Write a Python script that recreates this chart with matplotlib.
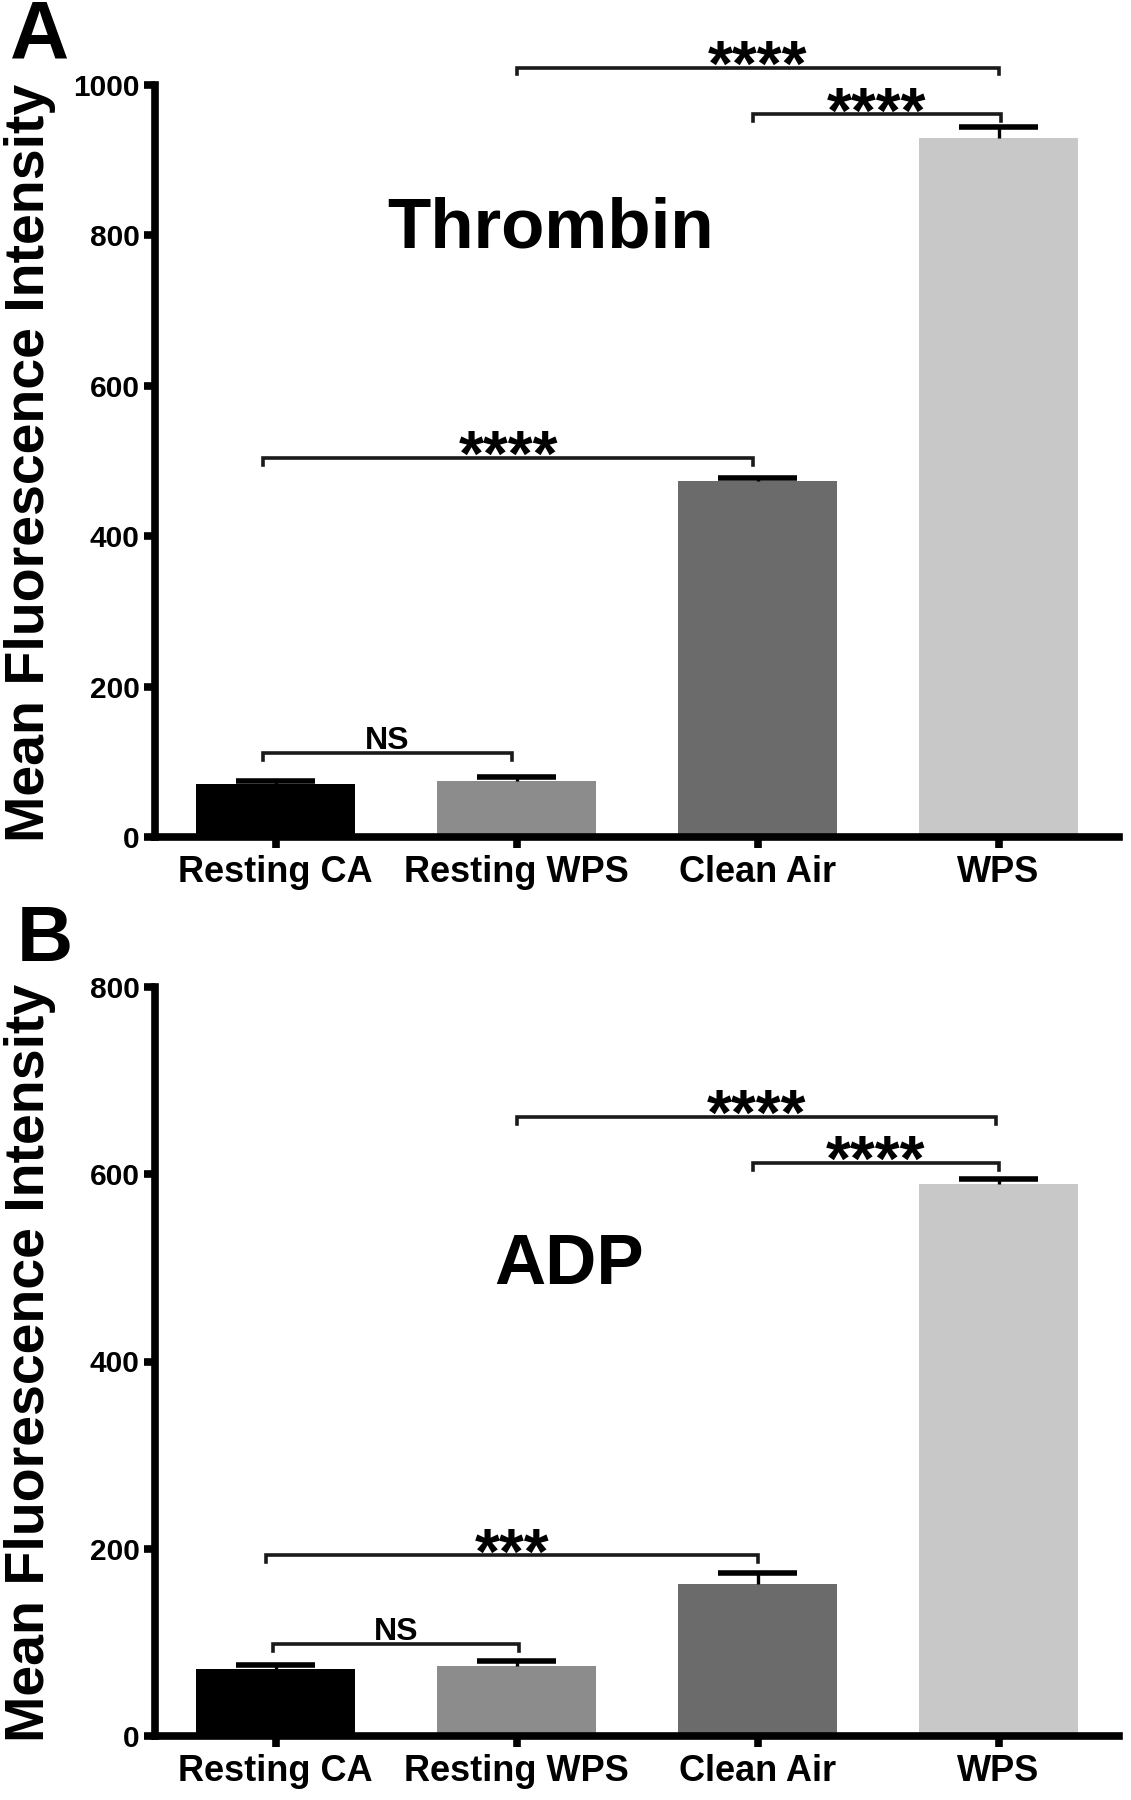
import numpy as np
import matplotlib
matplotlib.use('Agg')
import matplotlib.pyplot as plt

plt.rcParams['font.family'] = ['Liberation Sans', 'DejaVu Sans']
plt.rcParams['font.weight'] = 'bold'

groups = ['Resting CA', 'Resting WPS', 'Clean Air', 'WPS']
bar_colors = ['#000000', '#8c8c8c', '#6b6b6b', '#c8c8c8']

# panel A - thrombin
thrombin_mean = [71, 75, 473, 930]
thrombin_sem = [4, 5, 4, 14]
thrombin_ticks = [0, 200, 400, 600, 800, 1000]
# (left, right, height, label)
thrombin_sig = [(-0.05, 0.98, 112, 'NS'),
                (-0.05, 1.98, 504, '****'),
                (1.98, 3.01, 961, '****'),
                (1.0, 3.0, 1023, '****')]

# panel B - ADP
adp_mean = [72, 75, 162, 590]
adp_sem = [4, 5, 12, 5]
adp_ticks = [0, 200, 400, 600, 800]
adp_sig = [(-0.01, 1.01, 98, 'NS'),
           (-0.04, 2.0, 193, '***'),
           (1.98, 3.0, 612, '****'),
           (1.0, 2.99, 661, '****')]

W, H = 1131, 1800
fig = plt.figure(figsize=(W / 100, H / 100), dpi=100)


def panel(rect, means, sems, ticks, sig, title, title_pos):
    ax = fig.add_axes(rect)
    x = np.arange(len(groups))
    means = np.array(means)
    top = means + np.array(sems)
    ax.bar(x, means, width=0.66, color=bar_colors, zorder=2)
    # one-sided (upper) error bars, prism style
    ax.vlines(x, means, top, color='black', lw=2.4, zorder=3)
    ax.hlines(top, x - 0.165, x + 0.165, color='black', lw=4, zorder=3)
    ax.set_xlim(-0.5, 3.5)
    ax.set_ylim(0, ticks[-1])
    ax.set_yticks(ticks)
    ax.set_xticks(x)
    ax.set_xticklabels(groups)
    for s in ['top', 'right']:
        ax.spines[s].set_visible(False)
    for s in ['left', 'bottom']:
        ax.spines[s].set_linewidth(5.5)
        ax.spines[s].set_capstyle('projecting')
    ax.tick_params(axis='both', width=5.5, length=8, direction='out')
    ax.tick_params(axis='y', labelsize=21.5, pad=3)
    ax.tick_params(axis='x', labelsize=26, pad=5)

    tip = ticks[-1] * 0.009
    for x1, x2, y, lab in sig:
        ax.plot([x1, x1, x2, x2], [y - tip, y, y, y - tip], color='#1a1a1a',
                lw=2.6, clip_on=False, solid_joinstyle='miter')
        if lab == 'NS':
            ax.annotate(lab, ((x1 + x2) / 2, y), xytext=(0, 3), textcoords='offset points',
                        ha='center', va='baseline', fontsize=23, annotation_clip=False)
        else:
            ax.annotate(lab, ((x1 + x2) / 2, y), xytext=(0, -13), textcoords='offset points',
                        ha='center', va='baseline', fontsize=46, annotation_clip=False)

    ax.text(title_pos[0], title_pos[1], title, transform=ax.transAxes,
            ha='center', va='center', fontsize=51)
    return ax


left = 155 / W
width = (1119 - 155) / W
axA = panel([left, 1 - 837 / H, width, (837 - 85) / H], thrombin_mean, thrombin_sem,
            thrombin_ticks, thrombin_sig, 'Thrombin', (0.41, 0.808))
axB = panel([left, 1 - 1736 / H, width, (1736 - 987) / H], adp_mean, adp_sem,
            adp_ticks, adp_sig, 'ADP', (0.43, 0.627))

fig.text(30 / W, 1 - 463 / H, 'Mean Fluorescence Intensity', rotation=90,
         ha='center', va='center', fontsize=40)
fig.text(30 / W, 1 - 1363 / H, 'Mean Fluorescence Intensity', rotation=90,
         ha='center', va='center', fontsize=40)
fig.text(40 / W, 1 - 37 / H, 'A', ha='center', va='center', fontsize=59)
fig.text(45 / W, 1 - 940 / H, 'B', ha='center', va='center', fontsize=56)

fig.savefig('out.png', dpi=100)
